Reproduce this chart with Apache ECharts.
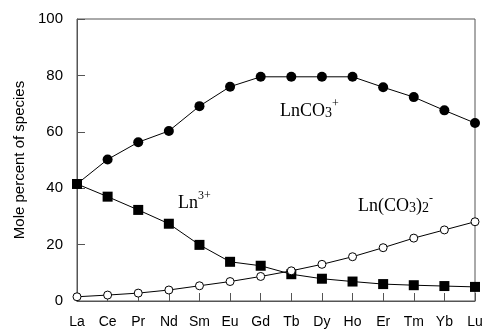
<!DOCTYPE html>
<html>
<head>
<meta charset="utf-8">
<script src="https://cdn.jsdelivr.net/npm/echarts@6/dist/echarts.min.js"></script>
<style>
  html, body { margin: 0; padding: 0; background: #fff; }
  #chart { width: 487px; height: 331px; }
</style>
</head>
<body>
<div id="chart"></div>
<script>
var elements = ['La', 'Ce', 'Pr', 'Nd', 'Sm', 'Eu', 'Gd', 'Tb', 'Dy', 'Ho', 'Er', 'Tm', 'Yb', 'Lu'];
var lnCO3 = [41.5, 50.2, 56.3, 60.3, 69.1, 76.0, 79.5, 79.5, 79.5, 79.5, 75.8, 72.3, 67.6, 63.1];
var ln3 = [41.5, 37.0, 32.3, 27.4, 19.9, 13.9, 12.5, 9.5, 7.9, 6.9, 6.0, 5.6, 5.3, 5.0];
var lnCO32 = [1.5, 2.1, 2.8, 3.9, 5.4, 6.9, 8.7, 10.7, 13.0, 15.7, 18.9, 22.3, 25.2, 28.1];
var yTicks = [0, 20, 40, 60, 80, 100];

var myChart = echarts.init(document.getElementById('chart'));

var axisColor = '#555';
var serif = '"Liberation Serif", "DejaVu Serif", serif';
var sans = '"Liberation Sans", Arial, sans-serif';

// rich text styles for the species labels
var rich = {
    b: { fontFamily: serif, fontSize: 18, color: '#000', lineHeight: 22, verticalAlign: 'bottom' },
    sub: { fontFamily: serif, fontSize: 14, color: '#000', lineHeight: 13, verticalAlign: 'bottom' },
    sup: { fontFamily: serif, fontSize: 12, color: '#000', lineHeight: 19, verticalAlign: 'top' }
};

var option = {
    animation: false,
    backgroundColor: '#fff',
    grid: {
        left: 77, right: 12, top: 19, bottom: 30,
        show: true, borderColor: axisColor, borderWidth: 1
    },
    xAxis: {
        type: 'category',
        data: elements,
        boundaryGap: false,
        axisLine: { lineStyle: { color: axisColor, width: 1 } },
        axisTick: { inside: true, length: 8, lineStyle: { color: axisColor } },
        axisLabel: { color: '#000', fontFamily: sans, fontSize: 14, margin: 14, interval: 0 },
        splitLine: { show: false }
    },
    yAxis: {
        type: 'value',
        min: yTicks[0], max: yTicks[yTicks.length - 1], interval: 20,
        name: 'Mole percent of species',
        nameLocation: 'middle',
        nameGap: 49,
        nameTextStyle: { color: '#000', fontFamily: sans, fontSize: 15 },
        axisLine: { show: true, lineStyle: { color: axisColor, width: 1 } },
        axisTick: { show: true, inside: true, length: 8, lineStyle: { color: axisColor } },
        axisLabel: { color: '#000', fontFamily: sans, fontSize: 15, margin: 14 },
        splitLine: { show: false }
    },
    series: [
        {
            name: 'LnCO3+', type: 'line', data: lnCO3,
            symbol: 'circle', symbolSize: 10,
            itemStyle: { color: '#000' },
            lineStyle: { color: '#000', width: 1 }
        },
        {
            name: 'Ln3+', type: 'line', data: ln3,
            symbol: 'rect', symbolSize: 10,
            itemStyle: { color: '#000' },
            lineStyle: { color: '#000', width: 1 }
        },
        {
            name: 'Ln(CO3)2-', type: 'line', data: lnCO32,
            symbol: 'circle', symbolSize: 8, showAllSymbol: true,
            itemStyle: { color: '#fff', borderColor: '#000', borderWidth: 1 },
            lineStyle: { color: '#000', width: 1 }
        }
    ],
    graphic: [
        {
            type: 'text', left: 280, top: 98,
            style: { text: '{b|LnCO}{sub|3}{sup|+}', rich: rich }
        },
        {
            type: 'text', left: 178, top: 190,
            style: { text: '{b|Ln}{sup|3+}', rich: rich }
        },
        {
            type: 'text', left: 358, top: 193,
            style: { text: '{b|Ln(CO}{sub|3}{b|)}{sub|2}{sup|-}', rich: rich }
        }
    ]
};

myChart.setOption(option);
</script>
</body>
</html>
